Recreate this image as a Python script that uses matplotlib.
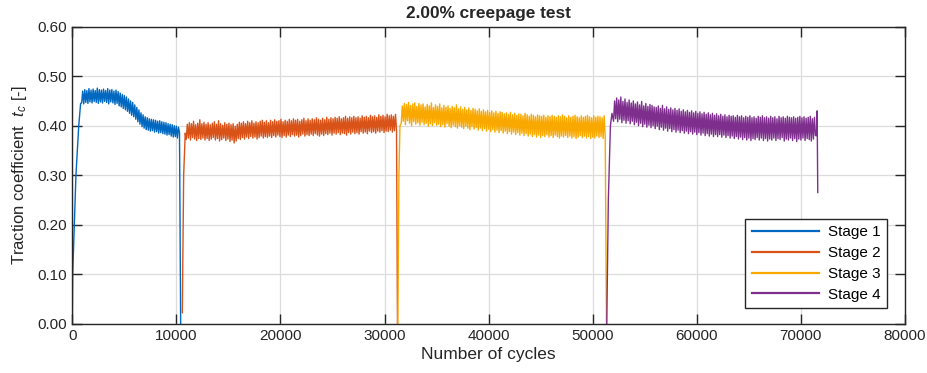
import numpy as np
import matplotlib
matplotlib.use("Agg")
import matplotlib.pyplot as plt

# ---- data, values in thousandths for the dense parts ----
step = 100

s1_ramp_x = [0, 40, 350, 620, 800]
s1_ramp_y = [0.0, 0.10, 0.30, 0.40, 0.445]
s1_start = 900
s1_vals = [
    446, 470, 444, 473, 447, 471, 445, 475, 448, 472, 446, 474, 449, 471, 447, 476, 445, 473, 448, 472,
    446, 474, 449, 471, 447, 475, 444, 472, 448, 473, 446, 470, 443, 472, 445, 469, 440, 466, 438, 463,
    435, 461, 432, 458, 429, 454, 425, 450, 421, 447, 418, 442, 413, 437, 408, 432, 403, 426, 398, 422,
    395, 418, 392, 416, 391, 414, 389, 413, 390, 412, 387, 411, 388, 409, 385, 410, 386, 408, 384, 407,
    383, 406, 381, 404, 382, 403, 379, 402, 377, 400, 378, 399, 375, 397, 386,
]
s1_end_x = [10410]
s1_end_y = [0.0]

s2_ramp_x = [10570, 10700, 10850]
s2_ramp_y = [0.022, 0.30, 0.385]
s2_start = 10950
s2_vals = [
    372, 403, 375, 406, 371, 404, 376, 409, 373, 402, 370, 405, 374, 412, 372, 404, 375, 407, 371, 403,
    374, 406, 370, 402, 373, 405, 376, 408, 371, 403, 374, 410, 369, 404, 372, 401, 375, 406, 370, 403,
    373, 405, 368, 402, 371, 404, 365, 399, 369, 403, 374, 407, 372, 405, 376, 408, 373, 404, 377, 409,
    374, 406, 378, 410, 375, 405, 377, 408, 373, 406, 376, 409, 379, 411, 375, 407, 378, 410, 376, 406,
    379, 411, 376, 408, 380, 412, 377, 409, 381, 410, 378, 413, 376, 408, 380, 411, 377, 409, 381, 413,
    378, 410, 382, 414, 379, 411, 381, 413, 377, 409, 380, 412, 383, 415, 379, 410, 382, 414, 380, 411,
    383, 414, 380, 412, 384, 416, 381, 413, 379, 411, 383, 415, 380, 412, 384, 417, 382, 413, 385, 416,
    381, 414, 385, 417, 383, 415, 386, 418, 382, 414, 385, 416, 384, 419, 381, 415, 386, 418, 383, 416,
    387, 419, 384, 416, 386, 418, 383, 415, 388, 420, 385, 417, 387, 419, 384, 416, 389, 421, 386, 418,
    388, 420, 385, 417, 389, 422, 387, 419, 390, 421, 386, 418, 389, 423, 388, 420, 391, 422, 387, 419,
    390, 423, 392,
]
s2_end_x = [31240]
s2_end_y = [0.0]

s3_ramp_x = [31280, 31380, 31480]
s3_ramp_y = [0.0, 0.30, 0.40]
s3_start = 31600
s3_vals = [
    404, 440, 409, 445, 402, 443, 410, 447, 405, 441, 400, 444, 408, 446, 403, 439, 406, 445, 401, 442,
    407, 444, 402, 438, 405, 443, 399, 440, 404, 446, 400, 437, 406, 442, 401, 439, 403, 444, 398, 436,
    402, 441, 397, 437, 404, 440, 399, 435, 396, 439, 401, 436, 398, 442, 395, 434, 400, 438, 397, 433,
    394, 437, 399, 432, 395, 436, 392, 431, 398, 435, 393, 433, 396, 430, 391, 434, 395, 429, 390, 432,
    394, 428, 389, 431, 393, 427, 388, 430, 392, 426, 387, 429, 391, 425, 386, 428, 390, 427, 385, 424,
    389, 426, 384, 423, 388, 427, 383, 422, 387, 425, 382, 421, 386, 424, 381, 423, 385, 420, 380, 425,
    384, 422, 379, 419, 383, 423, 378, 421, 382, 418, 377, 422, 381, 420, 376, 419, 380, 421, 378, 417,
    382, 420, 377, 418, 380, 421, 376, 419, 381, 417, 378, 420, 375, 418, 379, 422, 377, 419, 380, 416,
    376, 420, 379, 417, 375, 419, 378, 421, 374, 418, 377, 416, 380, 420, 376, 417, 379, 419, 375, 421,
    378, 418, 374, 416, 377, 420, 375, 417, 379, 419, 376, 418, 378, 416, 374, 420, 377,
]
s3_end_x = [51320]
s3_end_y = [0.0]

s4_ramp_x = [51350, 51500, 51700, 51850]
s4_ramp_y = [0.0, 0.25, 0.40, 0.425]
s4_start = 52000
s4_vals = [
    409, 450, 414, 456, 408, 452, 413, 458, 406, 449, 411, 454, 405, 447, 410, 452, 404, 446, 409, 450,
    402, 444, 407, 448, 400, 442, 405, 449, 398, 440, 403, 445, 397, 439, 401, 443, 396, 441, 400, 438,
    394, 437, 399, 440, 392, 435, 397, 441, 391, 434, 395, 438, 389, 433, 394, 436, 388, 432, 392, 435,
    387, 431, 391, 434, 386, 429, 390, 432, 385, 428, 389, 431, 384, 427, 388, 430, 383, 426, 387, 429,
    382, 425, 386, 428, 381, 424, 385, 427, 380, 423, 384, 426, 379, 422, 383, 425, 378, 421, 382, 424,
    378, 420, 382, 423, 377, 419, 381, 422, 376, 418, 380, 421, 375, 419, 379, 420, 374, 417, 378, 421,
    373, 418, 377, 420, 372, 416, 376, 419, 371, 417, 375, 420, 370, 416, 374, 418, 372, 415, 376, 419,
    371, 417, 375, 420, 370, 416, 374, 418, 369, 415, 373, 419, 371, 416, 375, 418, 370, 414, 374, 419,
    372, 416, 376, 418, 369, 415, 373, 419, 371, 417, 375, 416, 370, 418, 374, 415, 368, 417, 373, 419,
    371, 416, 375, 418, 370, 415, 374, 417, 372, 419, 369, 414, 373, 417, 380,
]
s4_end_x = [71500, 71560, 71620]
s4_end_y = [0.38, 0.43, 0.265]

labels = ["Stage 1", "Stage 2", "Stage 3", "Stage 4"]
colors = ["#0068C0", "#D95319", "#F9A800", "#7E2F8E"]

x_ticks = [0, 10000, 20000, 30000, 40000, 50000, 60000, 70000, 80000]
y_ticks = [0.0, 0.1, 0.2, 0.3, 0.4, 0.5, 0.6]

stages = [
    (s1_ramp_x, s1_ramp_y, s1_start, s1_vals, s1_end_x, s1_end_y),
    (s2_ramp_x, s2_ramp_y, s2_start, s2_vals, s2_end_x, s2_end_y),
    (s3_ramp_x, s3_ramp_y, s3_start, s3_vals, s3_end_x, s3_end_y),
    (s4_ramp_x, s4_ramp_y, s4_start, s4_vals, s4_end_x, s4_end_y),
]

plt.rcParams["font.family"] = ["Liberation Sans", "DejaVu Sans"]
plt.rcParams["mathtext.fontset"] = "custom"
plt.rcParams["mathtext.it"] = "Liberation Sans:italic"
plt.rcParams["mathtext.rm"] = "Liberation Sans"

fig = plt.figure(figsize=(9.28, 3.73), dpi=100)
ax = fig.add_axes([0.0779, 0.1322, 0.8973, 0.7962])

dark = "#262626"
for (rx, ry, start, vals, ex, ey), lab, col in zip(stages, labels, colors):
    osc_x = start + step * np.arange(len(vals))
    osc_y = np.array(vals) / 1000.0
    x = np.concatenate([rx, osc_x, ex])
    y = np.concatenate([ry, osc_y, ey])
    ax.plot(x, y, color=col, lw=1.0, label=lab)

ax.set_xlim(0, 80000)
ax.set_ylim(0, 0.6)
ax.set_xticks(x_ticks)
ax.set_yticks(y_ticks)
ax.set_xticklabels([str(t) for t in x_ticks])
ax.set_yticklabels([f"{t:.2f}" for t in y_ticks])

ax.grid(True, color="#dcdcdc", lw=0.9)
ax.set_axisbelow(True)
ax.tick_params(direction="in", length=7, width=1, colors=dark, labelsize=11,
               top=True, right=True, pad=4)
for sp in ax.spines.values():
    sp.set_color(dark)
    sp.set_linewidth(1.0)

ax.set_xlabel("Number of cycles", fontsize=12.5, color=dark, labelpad=3)
ax.set_ylabel(r"Traction coefficient  $t_c$ [-]", fontsize=12, color=dark, labelpad=6)
ax.set_title("2.00% creepage test", fontsize=12.4, fontweight="bold", color=dark, pad=6)

leg = ax.legend(loc="lower right", bbox_to_anchor=(0.978, 0.053), borderaxespad=0,
                fontsize=11, handlelength=4.4, labelspacing=0.45, fancybox=False,
                edgecolor=dark, framealpha=1, borderpad=0.4, handletextpad=0.6)
leg.get_frame().set_linewidth(1.0)
for line in leg.get_lines():
    line.set_linewidth(1.6)

fig.savefig("out.png", dpi=100)
